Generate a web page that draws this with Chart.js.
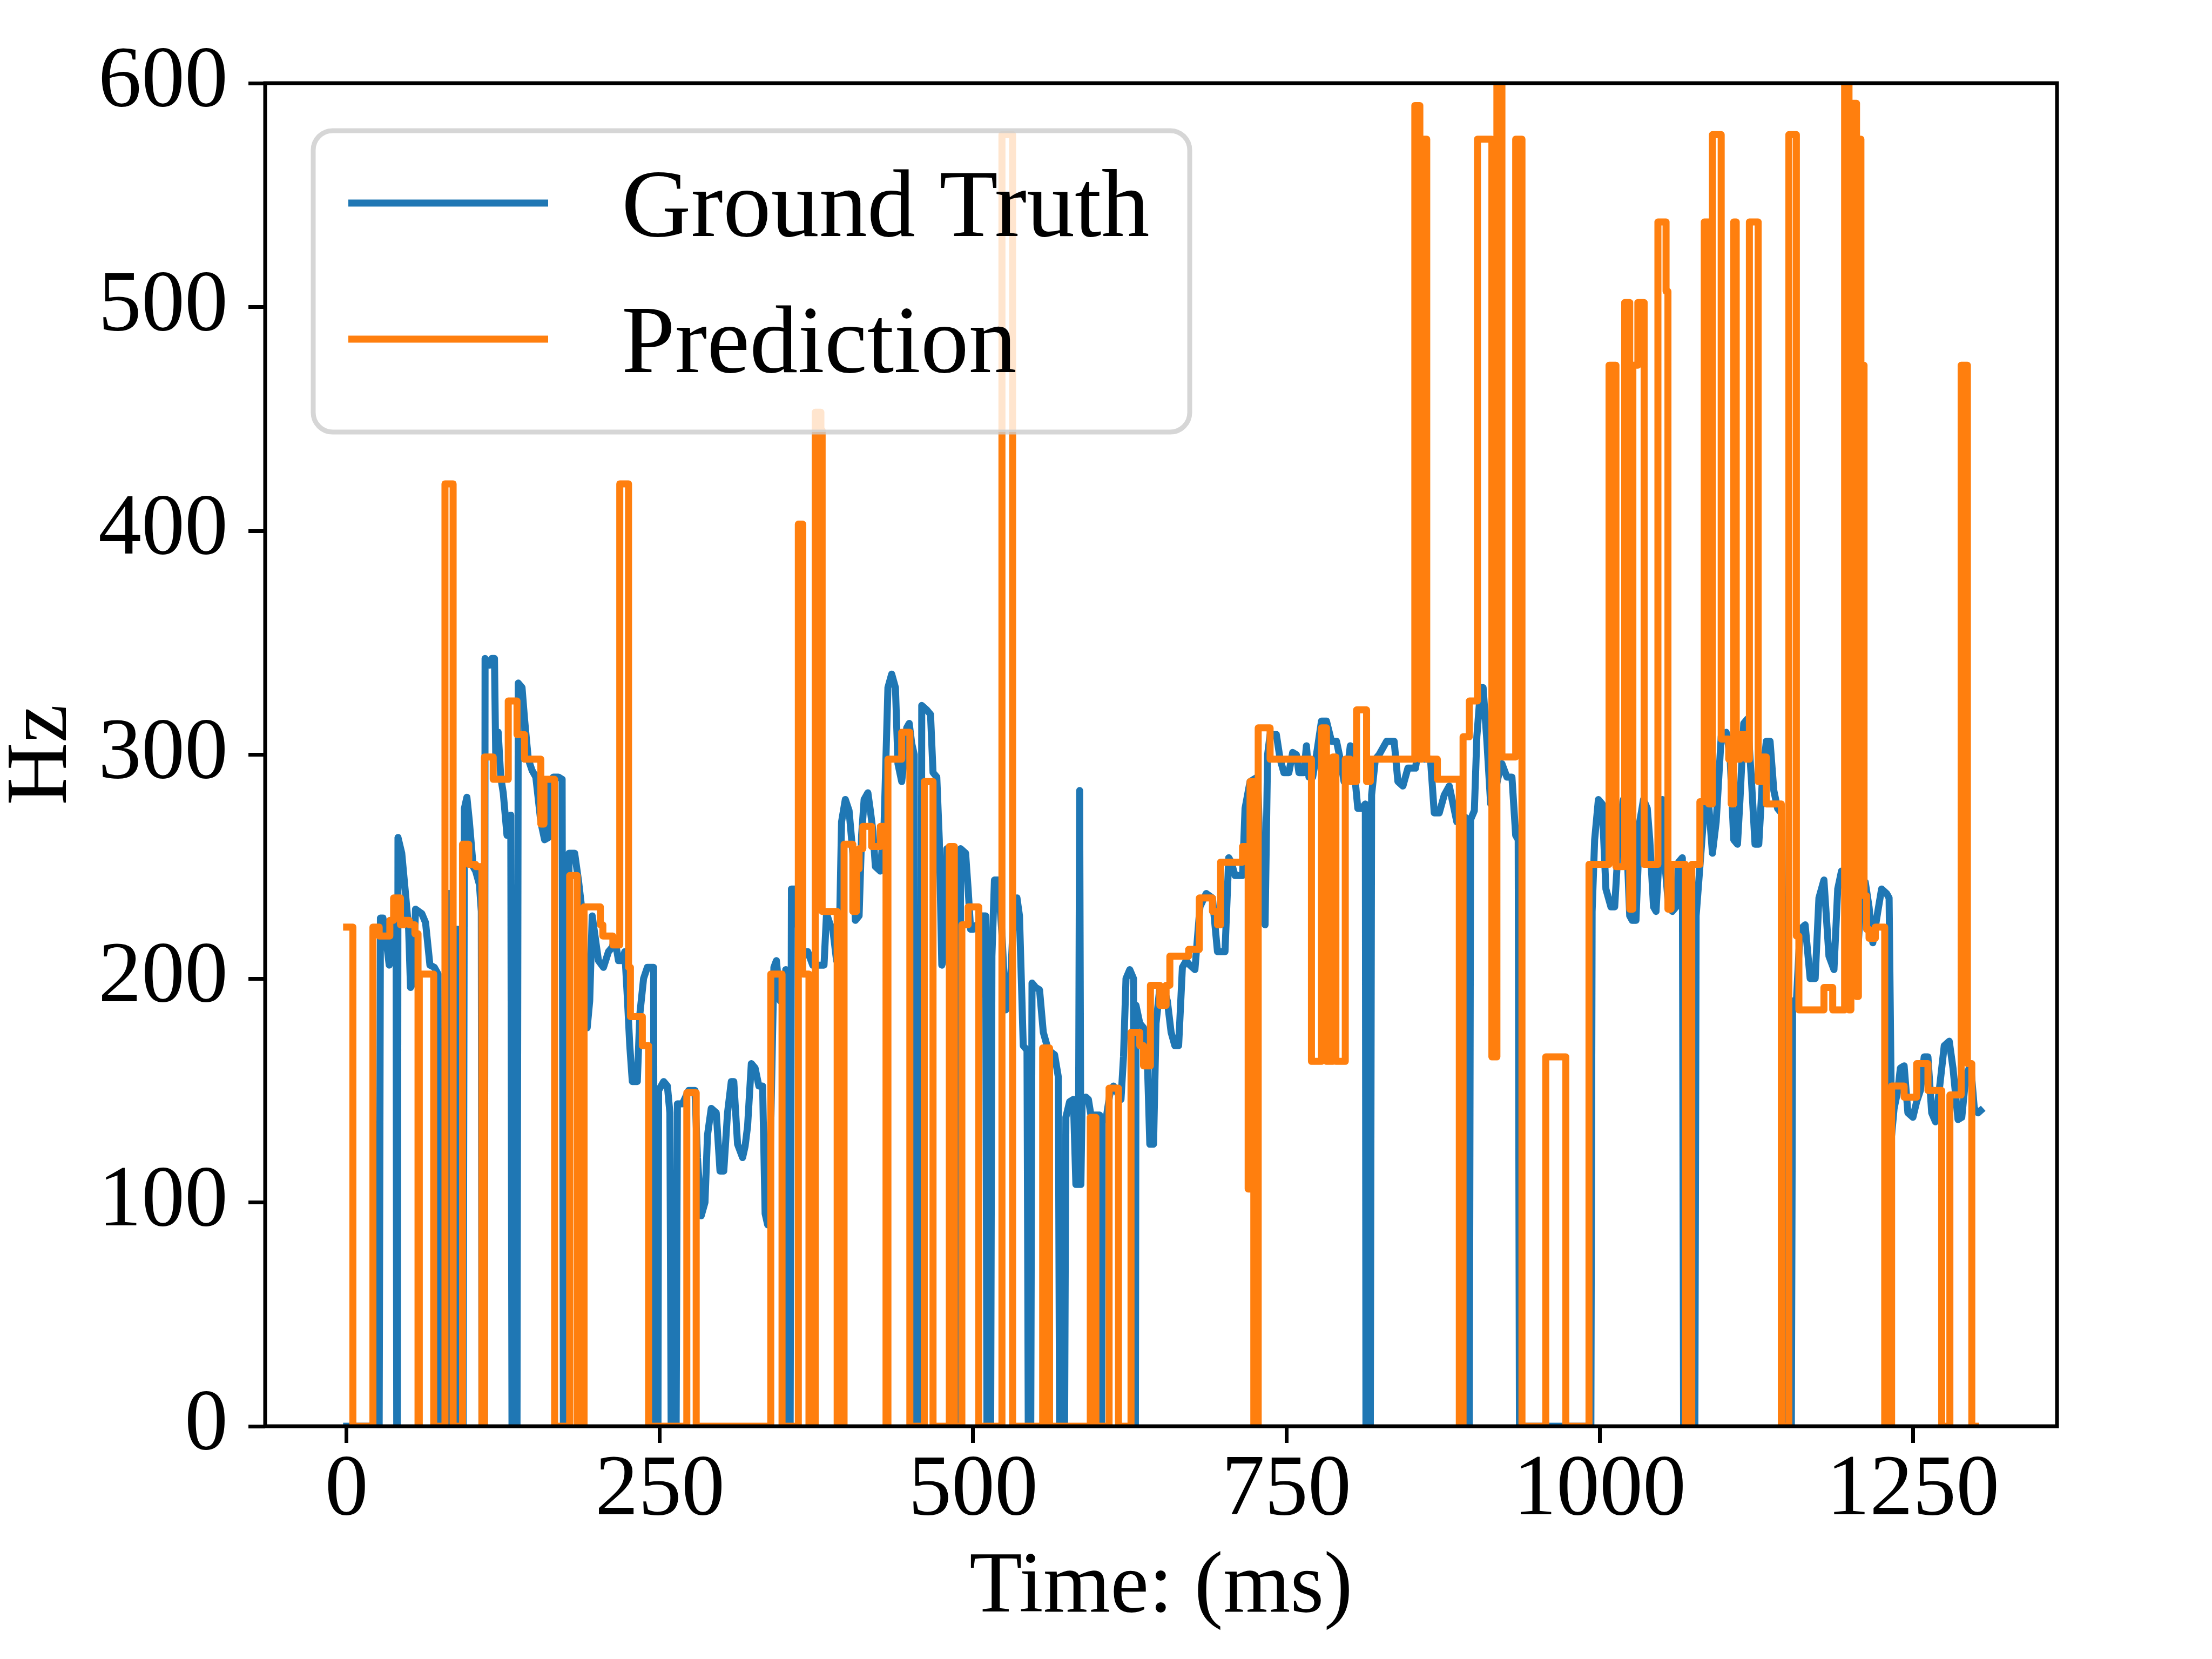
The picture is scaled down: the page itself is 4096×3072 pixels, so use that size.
<!DOCTYPE html>
<html>
<head>
<meta charset="utf-8">
<script src="https://cdn.jsdelivr.net/npm/chart.js@4.4.0/dist/chart.umd.min.js"></script>
<style>
    html, body { margin: 0; padding: 0; background: #ffffff; }
    #pitch { display: block; }
</style>
</head>
<body>
<canvas id="pitch" width="4096" height="3072"></canvas>
<script>
// -------- Datos --------
const xTicks = [0, 250, 500, 750, 1000, 1250];
const yTicks = [0, 100, 200, 300, 400, 500, 600];

// [ms, Hz]
const groundTruth = [
    [0,0],[26,0],[27,227],[29,227],[31,220],[34,206],[36,212],[38,224],[39.5,224],[40,0],[40.5,0],[41,263],
    [44,256],[47,238],[49.5,222],[51,196],[53,198],[55,231],[60,229],[63,225],[66.5,206],[70,205],[73,202],
    [74,0],[80,0],[80.5,238],[82,238],[82.5,0],[87.5,0],[88,222],[89,222],[89.5,0],[93,0],[94,276],[96,281],
    [98,270],[101,250],[103,248],[106,242],[107.5,230],[108,0],[110,0],[110.5,343],[114,340],[116,343],
    [118,343],[119,300],[121,310],[123,290],[125,283],[128,264],[131,273],[132,0],[136,0],[137,332],[140,330],
    [142,316],[145,298],[148,293],[151,290],[155,270],[158,262],[161,263],[162,288],[165,290],[169,290],
    [172,289],[173,0],[177,0],[177.5,256],[182,256],[185,244],[187.5,232],[190,200],[192,178],[194,190],
    [196,228],[198,220],[201,208],[205,205],[209,212],[212,214],[214,218],[217,208],[220,208],[222,212],
    [224,192],[226,170],[228,154],[232,154],[234,184],[237,200],[240,205],[245,205],[245.5,0],[248.5,0],
    [249,150],[253,154],[256,152],[258,140],[259,0],[263,0],[264,144],[268,144],[273,150],[278,150],[280,120],
    [283,94],[286,100],[288,130],[291,142],[295,140],[298,114],[301,114],[304,140],[307,154],[309,154],
    [312,126],[316,120],[318,125],[320,134],[323,162],[326,160],[329,152],[332,152],[334,95],[336,90],
    [337,92],[341,205],[343,208],[346,190],[349,190],[350.5,204],[351,0],[354,0],[355,240],[358,240],
    [361,220],[364,212],[368,212],[372,206],[381,206],[383,229],[386,224],[388,222],[391,208],[393,212],
    [395,270],[398,280],[401,275],[404,256],[406,226],[409,228],[411,264],[413,280],[416,283],[418,275],
    [420,266],[422,250],[426,248],[429,270],[432,330],[435,336],[438,330],[440,296],[443,288],[445,298],
    [447,312],[449,314],[451,305],[453,300],[453.5,0],[458,0],[459,322],[463,320],[466,318],[468,292],
    [471,290],[473,262],[475,206],[477,210],[479,258],[482,250],[485,244],[486,244],[487,0],[489,0],
    [490,258],[494,256],[496,240],[498,222],[500,222],[503,224],[505,222],[507,228],[510,228],[511,0],
    [514,0],[515,210],[517,244],[520,244],[523,220],[526,186],[529,188],[532,225],[535,236],[537,228],
    [540,170],[543,168],[544,0],[546,0],[547,198],[550,196],[553,195],[556,176],[560,168],[565,166],
    [568,156],[569,0],[573,0],[574,138],[577,145],[580,146],[582,108],[584,108],[585,284],[586,108],
    [587,146],[590,147],[592,146],[594,139],[601,139],[601.5,0],[602.5,0],[603,137],[606,137],[609,148],
    [612,152],[615,149],[618,146],[620,165],[622,200],[625,204],[628,200],[628.5,0],[629.5,0],[630,188],
    [633,180],[636,178],[639,164],[641,126],[644,126],[646,180],[649,196],[652,196],[655,190],[658,176],
    [661,170],[664,170],[667,205],[670,208],[673,206],[677,204],[681,232],[686,238],[691,236],[695,212],
    [701,212],[704,254],[706,252],[709,246],[715,246],[717,276],[721,288],[727,290],[730,240],[733,224],
    [735,300],[737,309],[742,309],[745,298],[748,292],[752,292],[755,301],[758,300],[760,292],[764,292],
    [766,304],[768,290],[771,290],[774,300],[778,315],[782,315],[786,306],[790,306],[793,298],[796,288],
    [798,290],[801,304],[803,300],[807,276],[810,276],[813,278],[813.5,0],[817,0],[818,282],[821,298],
    [824,300],[830,306],[836,306],[839,288],[843,286],[847,294],[853,294],[857,308],[860,298],[865,298],
    [868,274],[872,274],[876,282],[880,286],[883,278],[886,270],[893,272],[894,0],[896,0],[897,271],
    [900,275],[902,308],[905,330],[907,330],[910,306],[913,278],[916,282],[919,290],[922,296],[926,290],
    [930,290],[933,264],[935,262],[936,0],[993,0],[994,230],[996,262],[999,280],[1002,278],[1005,240],
    [1009,232],[1012,232],[1016,270],[1019,280],[1021,270],[1024,228],[1026,226],[1029,226],[1032,270],
    [1035,280],[1038,276],[1040,262],[1043,232],[1045,230],[1048,260],[1050,280],[1052,252],[1055,232],
    [1058,230],[1061,232],[1063,252],[1066,254],[1067,0],[1076,0],[1077,228],[1080,250],[1084,280],
    [1087,278],[1090,256],[1093,270],[1097,308],[1101,310],[1104,300],[1107,262],[1110,260],[1112,280],
    [1115,314],[1118,316],[1121,290],[1124,260],[1127,260],[1130,290],[1133,306],[1136,306],[1139,284],
    [1142,276],[1145,274],[1148,0],[1153,0],[1154,190],[1157,190],[1160,222],[1164,224],[1168,200],
    [1172,200],[1175,236],[1179,244],[1183,210],[1187,204],[1190,240],[1193,248],[1196,246],[1198,215],
    [1200,196],[1204,194],[1208,230],[1212,243],[1215,232],[1218,216],[1222,230],[1225,240],[1229,238],
    [1231,236],[1233,130],[1235,142],[1238,150],[1240,160],[1243,161],[1246,140],[1250,138],[1253,145],
    [1256,150],[1259,165],[1262,165],[1265,140],[1268,136],[1271,150],[1275,170],[1279,172],[1282,160],
    [1286,137],[1289,138],[1292,155],[1296,162],[1299,142],[1302,140],[1304,141]
];

// [ms, Hz]: el valor se mantiene hasta el siguiente punto
const prediction = [
    [0,223],[5,0],[21,223],[26,219],[34.5,226],[37.5,236],[43,224],[46,226],[50,224],[54.5,220],[57,0],
    [58,202],[69.5,0],[78.5,421],[85,0],[92.5,260],[97.5,251],[103,250],[108,0],[110,299],[117,289],
    [129,324],[136,309],[142,298],[155,269],[157.5,289],[166,0],[178,246],[184,0],[189.5,232],[202.5,224],
    [204.5,219],[212.5,215],[218,421],[225,205],[226.5,183],[236,170],[241,0],[271.5,149],[279,0],
    [338.5,202],[347.5,0],[360.5,403],[364,202],[369,0],[374,453],[378.5,445],[379.5,230],[391.5,0],
    [397,260],[404,230],[407,249],[409,258],[412,268],[419,259],[426,268],[430.5,0],[432,298],[443,310],
    [449.5,0],[461,288],[468,0],[481,259],[485,0],[491,224],[496,232],[504.5,0],[523,577],[531.5,0],
    [555.5,169],[561,0],[593.5,138],[598,0],[608.5,151],[616,0],[626,176],[633,170],[636,161],[641.5,197],
    [649,188],[654,197],[657,210],[672,213],[680.5,236],[691,230],[695,224],[697.5,252],[715,259],
    [719.5,106],[721,288],[724,0],[727.5,312],[737,298],[770,163],[778,312],[782,163],[787,299],
    [789.5,163],[797,298],[801,288],[806,320],[814,288],[817,298],[852.5,590],[856.5,298],[858,575],
    [862,298],[870.5,289],[888,0],[891,308],[896,324],[902.5,575],[914,165],[918,620],[922,299],[933,575],
    [938,0],[957,165],[973,0],[991.5,251],[1007.5,474],[1013,250],[1020,502],[1024,231],[1026.5,474],
    [1030.5,502],[1035.5,251],[1046.5,538],[1053,507],[1054.5,231],[1057,251],[1068.5,0],[1073.5,251],
    [1080,279],[1083.5,538],[1087,278],[1090,577],[1097,307],[1103,298],[1105,278],[1107,538],[1109,298],
    [1112,309],[1117,298],[1119.5,538],[1126.5,288],[1130,299],[1133,278],[1145,0],[1151,577],[1157,219],
    [1159,186],[1179,196],[1186,186],[1195.5,620],[1199,186],[1200.5,591],[1205,192],[1206.5,575],
    [1208.5,474],[1211,237],[1213,222],[1215,218],[1220,223],[1227.5,0],[1233,152],[1243,147],[1253,162],
    [1262,150],[1273,0],[1279.5,148],[1288.5,474],[1293.5,162],[1297,0],[1300,0]
];

// -------- Estilo --------
const FONT = "'Liberation Serif', 'Times New Roman', serif";
const BLUE = '#1f77b4';
const ORANGE = '#ff7f0e';

// Marco completo y leyenda al estilo matplotlib
const frameAndLegend = {
    id: 'frameAndLegend',
    afterDatasetsDraw(chart) {
        const { ctx, chartArea: a } = chart;
        ctx.save();

        ctx.strokeStyle = '#000000';
        ctx.lineWidth = 7;
        ctx.strokeRect(a.left, a.top, a.right - a.left, a.bottom - a.top);

        // leyenda
        ctx.beginPath();
        ctx.roundRect(580, 242, 1623, 558, 36);
        ctx.fillStyle = 'rgba(255,255,255,0.8)';
        ctx.fill();
        ctx.lineWidth = 9;
        ctx.strokeStyle = 'rgba(204,204,204,0.8)';
        ctx.stroke();

        const items = [
            { label: 'Ground Truth', color: BLUE, y: 376 },
            { label: 'Prediction', color: ORANGE, y: 628 }
        ];
        ctx.lineCap = 'butt';
        ctx.font = `178px ${FONT}`;
        ctx.textBaseline = 'alphabetic';
        ctx.textAlign = 'left';
        items.forEach(it => {
            ctx.strokeStyle = it.color;
            ctx.lineWidth = 13;
            ctx.beginPath();
            ctx.moveTo(645, it.y);
            ctx.lineTo(1015, it.y);
            ctx.stroke();
            ctx.fillStyle = '#000000';
            ctx.fillText(it.label, 1151, it.y + 61);
        });

        ctx.restore();
    }
};

function toPoints(pairs) {
    return pairs.map(p => ({ x: p[0], y: p[1] }));
}

new Chart(document.getElementById('pitch'), {
    type: 'line',
    data: {
        datasets: [
            {
                label: 'Prediction',
                data: toPoints(prediction),
                borderColor: ORANGE,
                borderWidth: 13,
                stepped: true,
                pointRadius: 0,
                borderJoinStyle: 'round',
                borderCapStyle: 'square',
                clip: 0,
                order: 1
            },
            {
                label: 'Ground Truth',
                data: toPoints(groundTruth),
                borderColor: BLUE,
                borderWidth: 13,
                tension: 0,
                pointRadius: 0,
                borderJoinStyle: 'round',
                borderCapStyle: 'square',
                clip: 0,
                order: 2
            }
        ]
    },
    options: {
        responsive: false,
        devicePixelRatio: 1,
        animation: false,
        layout: { padding: { left: 0, top: 154, right: 287, bottom: 0 } },
        plugins: {
            legend: { display: false },
            tooltip: { enabled: false }
        },
        scales: {
            x: {
                type: 'linear',
                min: -65,
                max: 1365,
                afterBuildTicks: s => { s.ticks = xTicks.map(v => ({ value: v })); },
                afterFit: s => { s.height = 431; },
                border: { display: false },
                grid: { drawOnChartArea: false, drawTicks: true, tickLength: 31, lineWidth: 7, color: '#000000' },
                ticks: {
                    color: '#000000',
                    padding: 10,
                    maxRotation: 0,
                    font: { family: FONT, size: 160, lineHeight: 1 },
                    callback: v => String(v)
                },
                title: {
                    display: true,
                    text: 'Time: (ms)',
                    color: '#000000',
                    font: { family: FONT, size: 160, lineHeight: 1 },
                    padding: { top: 0, bottom: 50 }
                }
            },
            y: {
                type: 'linear',
                min: 0,
                max: 600,
                afterBuildTicks: s => { s.ticks = yTicks.map(v => ({ value: v })); },
                afterFit: s => { s.width = 491; },
                border: { display: false },
                grid: { drawOnChartArea: false, drawTicks: true, tickLength: 31, lineWidth: 7, color: '#000000' },
                ticks: {
                    color: '#000000',
                    padding: 38,
                    font: { family: FONT, size: 160, lineHeight: 1 },
                    callback: v => String(v)
                },
                title: {
                    display: true,
                    text: 'Hz',
                    color: '#000000',
                    font: { family: FONT, size: 160, lineHeight: 1 },
                    padding: { top: 0, bottom: 0 }
                }
            }
        }
    },
    plugins: [frameAndLegend]
});
</script>
</body>
</html>
